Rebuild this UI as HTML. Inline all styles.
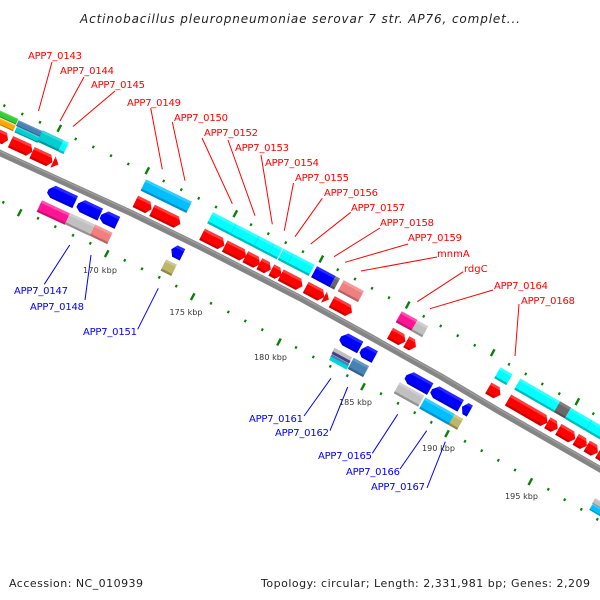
<!DOCTYPE html>
<html><head><meta charset="utf-8"><style>
html,body{margin:0;padding:0;background:#fff}
svg{display:block}
text{font-family:"DejaVu Sans","Liberation Sans",sans-serif}
.r text{fill:#f00;font-size:10px}.b text{fill:#00f;font-size:10px}
.k text{fill:#333;font-size:8px}
</style></head><body>
<svg width="600" height="600" viewBox="0 0 600 600" xmlns="http://www.w3.org/2000/svg">
<defs>
<linearGradient id="red" x1="0" y1="0" x2="0" y2="1"><stop offset=".22" stop-color="#ff3c3c"/><stop offset=".22" stop-color="#f00"/><stop offset=".82" stop-color="#f00"/><stop offset=".82" stop-color="#c00"/></linearGradient>
<linearGradient id="blu" x1="0" y1="0" x2="0" y2="1"><stop offset=".22" stop-color="#2828ff"/><stop offset=".22" stop-color="#00f"/><stop offset=".82" stop-color="#00f"/><stop offset=".82" stop-color="#00c"/></linearGradient>
<linearGradient id="cya" x1="0" y1="0" x2="0" y2="1"><stop offset=".22" stop-color="#33ffff"/><stop offset=".22" stop-color="#0ff"/><stop offset=".82" stop-color="#0ff"/><stop offset=".82" stop-color="#0bb"/></linearGradient>
<linearGradient id="sky" x1="0" y1="0" x2="0" y2="1"><stop offset=".22" stop-color="#33ccff"/><stop offset=".22" stop-color="#00bfff"/><stop offset=".82" stop-color="#00bfff"/><stop offset=".82" stop-color="#0092c8"/></linearGradient>
<linearGradient id="pin" x1="0" y1="0" x2="0" y2="1"><stop offset=".22" stop-color="#ff50b0"/><stop offset=".22" stop-color="#ff1493"/><stop offset=".82" stop-color="#ff1493"/><stop offset=".82" stop-color="#c81074"/></linearGradient>
<linearGradient id="gra" x1="0" y1="0" x2="0" y2="1"><stop offset=".22" stop-color="#cfcfcf"/><stop offset=".22" stop-color="#c0c0c0"/><stop offset=".82" stop-color="#c0c0c0"/><stop offset=".82" stop-color="#939393"/></linearGradient>
<linearGradient id="sal" x1="0" y1="0" x2="0" y2="1"><stop offset=".22" stop-color="#f49a9a"/><stop offset=".22" stop-color="#f08080"/><stop offset=".82" stop-color="#f08080"/><stop offset=".82" stop-color="#b86262"/></linearGradient>
<linearGradient id="oli" x1="0" y1="0" x2="0" y2="1"><stop offset=".22" stop-color="#cdc88a"/><stop offset=".22" stop-color="#bdb76b"/><stop offset=".82" stop-color="#bdb76b"/><stop offset=".82" stop-color="#8e8950"/></linearGradient>
<linearGradient id="tea" x1="0" y1="0" x2="0" y2="1"><stop offset=".22" stop-color="#33d8db"/><stop offset=".22" stop-color="#00ced1"/><stop offset=".82" stop-color="#00ced1"/><stop offset=".82" stop-color="#009a9d"/></linearGradient>
<linearGradient id="ste" x1="0" y1="0" x2="0" y2="1"><stop offset=".22" stop-color="#6496c0"/><stop offset=".22" stop-color="#4682b4"/><stop offset=".82" stop-color="#4682b4"/><stop offset=".82" stop-color="#356187"/></linearGradient>
<linearGradient id="dim" x1="0" y1="0" x2="0" y2="1"><stop offset=".22" stop-color="#808080"/><stop offset=".22" stop-color="#696969"/><stop offset=".82" stop-color="#696969"/><stop offset=".82" stop-color="#505050"/></linearGradient>
<linearGradient id="grn" x1="0" y1="0" x2="0" y2="1"><stop offset=".22" stop-color="#55d855"/><stop offset=".22" stop-color="#32cd32"/><stop offset=".82" stop-color="#32cd32"/><stop offset=".82" stop-color="#269a26"/></linearGradient>
<linearGradient id="ora" x1="0" y1="0" x2="0" y2="1"><stop offset=".22" stop-color="#ffb733"/><stop offset=".22" stop-color="#ffa500"/><stop offset=".82" stop-color="#ffa500"/><stop offset=".82" stop-color="#c08000"/></linearGradient>
</defs>

<text x="300" y="23" text-anchor="middle" font-size="12" font-style="italic" fill="#222" textLength="440" lengthAdjust="spacing">Actinobacillus pleuropneumoniae serovar 7 str. AP76, complet...</text>

<!-- backbone -->
<polyline points="-5,151 0,153 130,212.5 200,246.7 300,298 370,336.7 440,376 500,411.7 605,472" fill="none" stroke="#858585" stroke-width="6.4" stroke-linejoin="round"/>
<polyline points="-5,149.2 0,151.2 130,210.7 200,244.9 300,296.2 370,334.9 440,374.2 500,409.9 605,470.2" fill="none" stroke="#a0a0a0" stroke-width="1.2" stroke-linejoin="round"/>

<!-- ticks -->
<path stroke="#0a7f0a" stroke-width="2.1" fill="none" d="M4.9,104.5l-1.2,2.4M22.9,112.8l-1.2,2.4M40.6,121.1l-1.2,2.4M76.3,137.8l-1.2,2.4M93.9,145.8l-1.2,2.4M111.6,154.5l-1.2,2.4M128.9,162.8l-1.2,2.4M164.3,179.8l-1.2,2.4M181.9,188.5l-1.2,2.4M199.3,197.1l-1.2,2.4M216.6,205.8l-1.2,2.4M251.6,223.5l-1.2,2.4M268.9,232.5l-1.2,2.4M286.3,241.5l-1.2,2.4M303.6,250.5l-1.2,2.4M338.3,268.5l-1.2,2.4M355.6,277.8l-1.2,2.4M372.6,287.1l-1.2,2.4M389.6,296.5l-1.2,2.4M424.3,315.1l-1.2,2.4M441.3,324.8l-1.2,2.4M458.3,334.5l-1.2,2.4M475.3,344.1l-1.2,2.4M509.6,363.1l-1.2,2.4M526.3,372.8l-1.2,2.4M542.9,382.8l-1.2,2.4M559.9,392.5l-1.2,2.4M593.9,412.5l-1.2,2.4
M3.9,201.1l-1.2,2.4M38.6,217.1l-1.2,2.4M55.9,225.5l-1.2,2.4M73.6,234.1l-1.2,2.4M90.9,242.1l-1.2,2.4M125.3,259.1l-1.2,2.4M142.6,267.6l-1.2,2.4M159.9,276.1l-1.2,2.4M176.9,284.9l-1.2,2.4M211.6,302.1l-1.2,2.4M228.9,310.8l-1.2,2.4M245.9,319.8l-1.2,2.4M262.9,328.5l-1.2,2.4M296.6,346.3l-1.2,2.4M313.9,355.8l-1.2,2.4M330.9,365.1l-1.2,2.4M347.9,374.5l-1.2,2.4M381.6,392.5l-1.2,2.4M398.6,402.1l-1.2,2.4M415.3,411.5l-1.2,2.4M431.9,421.1l-1.2,2.4M465.6,440.1l-1.2,2.4M482.3,449.5l-1.2,2.4M498.9,459.1l-1.2,2.4M515.6,468.8l-1.2,2.4M548.9,488.1l-1.2,2.4M565.3,498.5l-1.2,2.4M581.9,508.1l-1.2,2.4M597.9,518.1l-1.2,2.4"/>
<path stroke="#0a7f0a" stroke-width="2.4" fill="none" d="M61.1,124.9l-3.6,6.8M149.1,167.3l-3.6,6.8M237.1,210.3l-3.6,6.8M323.1,255.6l-3.6,6.8M409.5,301.6l-3.6,6.8M494.5,349.3l-3.6,6.8M579.1,398.3l-3.6,6.8M21.5,209.3l-3.6,6.8M108.5,250.3l-3.6,6.8M194.5,293.3l-3.6,6.8M280.8,338.6l-3.6,6.8M364.8,383.3l-3.6,6.8M448.8,430.3l-3.6,6.8M532.1,478.3l-3.6,6.8"/>

<!-- top track genes -->
<rect transform="translate(-12,108.5) rotate(24.5)" y="-3.2" width="32" height="6.4" fill="url(#grn)"/>
<rect transform="translate(-12,116.3) rotate(24.5)" y="-3.2" width="29" height="6.4" fill="url(#ora)"/>
<rect transform="translate(17.3,123) rotate(24.7)" y="-3.2" width="26.8" height="6.4" fill="url(#ste)"/>
<rect transform="translate(15.7,129.3) rotate(24.7)" y="-3.2" width="25.5" height="6.4" fill="url(#tea)"/>
<rect transform="translate(40,136) rotate(25)" y="-6.3" width="23.2" height="12.6" fill="url(#tea)"/>
<rect transform="translate(61,146) rotate(25)" y="-6.3" width="5.6" height="12.6" fill="url(#cya)"/>
<polygon transform="translate(-12,131) rotate(24.5)" points="0,-6.3 18,-6.3 22,0 18,6.3 0,6.3" fill="url(#red)"/>
<polygon transform="translate(10.5,141.7) rotate(24.6)" points="0,-6.3 20,-6.3 24,0 20,6.3 0,6.3" fill="url(#red)"/>
<polygon transform="translate(32,152.7) rotate(24.8)" points="0,-6.3 18.5,-6.3 22.5,0 18.5,6.3 0,6.3" fill="url(#red)"/>
<polygon transform="translate(53,162) rotate(25)" points="0,-6.3 6,0 0,6.3" fill="url(#red)"/>

<rect transform="translate(143.3,185) rotate(26)" y="-6.3" width="51" height="12.6" fill="url(#sky)"/>
<polygon transform="translate(135.3,201.3) rotate(26)" points="0,-6.3 14,-6.3 18,0 14,6.3 0,6.3" fill="url(#red)"/>
<polygon transform="translate(152,210.3) rotate(26)" points="0,-6.3 27,-6.3 31.5,0 27,6.3 0,6.3" fill="url(#red)"/>

<g transform="translate(210,217.7) rotate(27.4)">
<rect y="-6.3" width="114.5" height="12.6" fill="url(#cya)"/>
<path d="M26,-6v12M52,-6v12M69,-6v12M90,-6v12" stroke="#00cfcf" stroke-width=".7" opacity=".6"/>
<path d="M79,-6.3v12.6" stroke="#fff" stroke-width="1"/>
</g>
<polygon transform="translate(202,234.3) rotate(26.8)" points="0,-6.3 20.5,-6.3 25,0 20.5,6.3 0,6.3" fill="url(#red)"/>
<polygon transform="translate(224.7,246) rotate(27)" points="0,-6.3 19.5,-6.3 24,0 19.5,6.3 0,6.3" fill="url(#red)"/>
<polygon transform="translate(245.3,256.7) rotate(27.2)" points="0,-6.3 12,-6.3 16.5,0 12,6.3 0,6.3" fill="url(#red)"/>
<polygon transform="translate(259.3,263.7) rotate(27.3)" points="0,-6.3 8.5,-6.3 13,0 8.5,6.3 0,6.3" fill="url(#red)"/>
<polygon transform="translate(271.3,270) rotate(27.4)" points="0,-6.3 7,-6.3 11.5,0 7,6.3 0,6.3" fill="url(#red)"/>
<polygon transform="translate(280.7,275) rotate(27.5)" points="0,-6.3 20,-6.3 24.5,0 20,6.3 0,6.3" fill="url(#red)"/>
<rect transform="translate(314,271.7) rotate(28)" y="-6.3" width="21.2" height="12.6" fill="url(#blu)"/>
<rect transform="translate(332.7,281.7) rotate(28)" y="-6.3" width="5" height="12.6" fill="url(#dim)"/>
<rect transform="translate(340.7,285.7) rotate(28.3)" y="-6.3" width="23" height="12.6" fill="url(#sal)"/>
<polygon transform="translate(305.7,287.3) rotate(27.9)" points="0,-6.3 16.5,-6.3 21,0 16.5,6.3 0,6.3" fill="url(#red)"/>
<polygon transform="translate(324,297) rotate(28)" points="0,-6.3 5.5,0 0,6.3" fill="url(#red)"/>
<polygon transform="translate(331.7,301.7) rotate(28.2)" points="0,-6.3 18.5,-6.3 23,0 18.5,6.3 0,6.3" fill="url(#red)"/>

<rect transform="translate(398.7,316.7) rotate(29)" y="-6.3" width="18" height="12.6" fill="url(#pin)"/>
<rect transform="translate(414.3,325.7) rotate(29)" y="-6.3" width="12.5" height="12.6" fill="url(#gra)"/>
<polygon transform="translate(390,333.3) rotate(29)" points="0,-6.3 13,-6.3 17.5,0 13,6.3 0,6.3" fill="url(#red)"/>
<polygon transform="translate(406.3,341.7) rotate(29)" points="0,-6.3 6.5,-6.3 11,0 6.5,6.3 0,6.3" fill="url(#red)"/>

<rect transform="translate(497.3,372.7) rotate(29.9)" y="-6.3" width="14" height="12.6" fill="url(#cya)"/>
<polygon transform="translate(488.3,388) rotate(30)" points="0,-6.3 9.5,-6.3 14,0 9.5,6.3 0,6.3" fill="url(#red)"/>
<rect transform="translate(517.3,384) rotate(30)" y="-6.3" width="45.7" height="12.6" fill="url(#cya)"/>
<rect transform="translate(557,406.7) rotate(30.2)" y="-6.3" width="12.7" height="12.6" fill="url(#dim)"/>
<g transform="translate(568,413.3) rotate(30.5)">
<rect y="-6.3" width="50" height="12.6" fill="url(#cya)"/>
<path d="M24,-6v12" stroke="#00cfcf" stroke-width=".7" opacity=".6"/>
</g>
<polygon transform="translate(508,400) rotate(30)" points="0,-6.3 41,-6.3 45.5,0 41,6.3 0,6.3" fill="url(#red)"/>
<polygon transform="translate(547.3,422.7) rotate(30.2)" points="0,-6.3 7.5,-6.3 12,0 7.5,6.3 0,6.3" fill="url(#red)"/>
<polygon transform="translate(558.3,429.3) rotate(30.4)" points="0,-6.3 15,-6.3 19.5,0 15,6.3 0,6.3" fill="url(#red)"/>
<polygon transform="translate(575.7,439.3) rotate(30.6)" points="0,-6.3 8.5,-6.3 13,0 8.5,6.3 0,6.3" fill="url(#red)"/>
<polygon transform="translate(586.7,446) rotate(30.7)" points="0,-6.3 8.5,-6.3 13,0 8.5,6.3 0,6.3" fill="url(#red)"/>
<polygon transform="translate(598.3,452.6) rotate(31)" points="0,-6.3 8,-6.3 12,0 8,6.3 0,6.3" fill="url(#red)"/>

<!-- bottom track genes -->
<polygon transform="translate(48.3,190) rotate(25)" points="0,-1 5,-7 29.5,-7 29.5,6.3 5,6.3 0,3" fill="url(#blu)"/>
<polygon transform="translate(77.7,204.3) rotate(25.3)" points="0,-1 5,-7 24.8,-7 24.8,6.3 5,6.3 0,3" fill="url(#blu)"/>
<polygon transform="translate(101,215.5) rotate(25.5)" points="0,-1 5,-7 18,-7 18,6.3 5,6.3 0,3" fill="url(#blu)"/>
<rect transform="translate(39.3,206) rotate(25)" y="-6.3" width="31" height="12.6" fill="url(#pin)"/>
<rect transform="translate(67.7,218.7) rotate(25.3)" y="-6.3" width="27" height="12.6" fill="url(#gra)"/>
<rect transform="translate(92.3,230) rotate(25.5)" y="-6.3" width="19.5" height="12.6" fill="url(#sal)"/>
<polygon transform="translate(171.3,249.3) rotate(26.2)" points="0,0 4,-6.3 12.5,-6.3 12.5,6.3 4,6.3" fill="url(#blu)"/>
<rect transform="translate(163.3,265) rotate(26.2)" y="-6.3" width="12" height="12.6" fill="url(#oli)"/>

<polygon transform="translate(340.7,337.3) rotate(28.3)" points="0,-1 5,-7 22,-7 22,6.3 5,6.3 0,3" fill="url(#blu)"/>
<polygon transform="translate(361,350) rotate(28.5)" points="0,-1 4,-7 15.5,-7 15.5,6.3 4,6.3 0,3" fill="url(#blu)"/>
<rect transform="translate(333.3,350) rotate(28.5)" y="-2.5" width="20" height="5" fill="#c0c0c0"/>
<rect transform="translate(332.3,352.7) rotate(28.5)" y="-1.5" width="20" height="3" fill="#483d8b"/>
<rect transform="translate(331,355.7) rotate(28.5)" y="-1.5" width="20" height="3" fill="#4682b4"/>
<rect transform="translate(330,358.3) rotate(28.5)" y="-2" width="20" height="4" fill="#00d5d8"/>
<rect transform="translate(350.7,363.3) rotate(28.5)" y="-6.3" width="17.5" height="12.6" fill="url(#ste)"/>

<polygon transform="translate(406,376) rotate(29)" points="0,-1 5,-7 27.5,-7 27.5,6.3 5,6.3 0,3" fill="url(#blu)"/>
<polygon transform="translate(431.7,390) rotate(29.3)" points="0,-1 5,-7 33,-7 33,6.3 5,6.3 0,3" fill="url(#blu)"/>
<polygon transform="translate(462,406.7) rotate(29.5)" points="0,0 4,-6.3 9,-6.3 9,6.3 4,6.3" fill="url(#blu)"/>
<rect transform="translate(396.7,387.7) rotate(29)" y="-6.3" width="28" height="12.6" fill="url(#gra)"/>
<rect transform="translate(422.3,403) rotate(29.3)" y="-6.3" width="33.7" height="12.6" fill="url(#sky)"/>
<rect transform="translate(451.5,419.5) rotate(29.5)" y="-6.3" width="10" height="12.6" fill="url(#oli)"/>
<rect transform="translate(593.7,500.7) rotate(31)" y="-3.2" width="20" height="6.4" fill="url(#gra)"/>
<rect transform="translate(591,506.7) rotate(31)" y="-3.5" width="24" height="7" fill="url(#sky)"/>

<!-- connectors -->
<path stroke="#f00" stroke-width="1" fill="none" d="M52,62L38.5,111M84,77L60,121M115,91L73,126.5M150.7,108L162.3,169.3M172.3,122L185,180.7M202,138L232.3,203.7M228,140L255,215.7M261,155L272.3,224.3M293.5,183L284.3,230.7M322.3,198.3L295,236.7M350.7,212.3L310.7,244M380,228L334,256.7M408,244L345,262.3M437,257L361,271M463.3,271.7L417.3,301.7M493,290L430,308.7M519,304L515,356"/>
<path stroke="#00f" stroke-width="1" fill="none" d="M69.7,245L44.3,284.3M91,255L85,300M158.3,288.3L137.7,329.3M331,378.3L304,416M347.7,387L330,430.7M397.7,414.3L372.3,453.3M426.7,430.7L400,469M445.3,441.7L427,488"/>

<g class="r">
<text x="28" y="59" textLength="54">APP7_0143</text>
<text x="60" y="74" textLength="54">APP7_0144</text>
<text x="91" y="88" textLength="54">APP7_0145</text>
<text x="127" y="106" textLength="54">APP7_0149</text>
<text x="174" y="121" textLength="54">APP7_0150</text>
<text x="204" y="136" textLength="54">APP7_0152</text>
<text x="235" y="151" textLength="54">APP7_0153</text>
<text x="265" y="166" textLength="54">APP7_0154</text>
<text x="295" y="181" textLength="54">APP7_0155</text>
<text x="324" y="196" textLength="54">APP7_0156</text>
<text x="351" y="211" textLength="54">APP7_0157</text>
<text x="380" y="226" textLength="54">APP7_0158</text>
<text x="408" y="241" textLength="54">APP7_0159</text>
<text x="437" y="257">mnmA</text>
<text x="464" y="272">rdgC</text>
<text x="494" y="289" textLength="54">APP7_0164</text>
<text x="521" y="304" textLength="54">APP7_0168</text>
</g>
<g class="b">
<text x="14" y="294" textLength="54">APP7_0147</text>
<text x="30" y="310" textLength="54">APP7_0148</text>
<text x="83" y="335" textLength="54">APP7_0151</text>
<text x="249" y="422" textLength="54">APP7_0161</text>
<text x="275" y="436" textLength="54">APP7_0162</text>
<text x="318" y="459" textLength="54">APP7_0165</text>
<text x="346" y="475" textLength="54">APP7_0166</text>
<text x="371" y="490" textLength="54">APP7_0167</text>
</g>
<g class="k">
<text x="83" y="273" textLength="34">170 kbp</text>
<text x="169.5" y="315" textLength="33">175 kbp</text>
<text x="254" y="360" textLength="33">180 kbp</text>
<text x="339" y="405" textLength="33">185 kbp</text>
<text x="422" y="451" textLength="33">190 kbp</text>
<text x="505" y="499" textLength="33">195 kbp</text>
</g>
<text x="9" y="587" font-size="11" fill="#222" textLength="134">Accession: NC_010939</text>
<text x="261" y="587" font-size="11" fill="#222" textLength="329">Topology: circular; Length: 2,331,981 bp; Genes: 2,209</text>
</svg>
</body></html>
